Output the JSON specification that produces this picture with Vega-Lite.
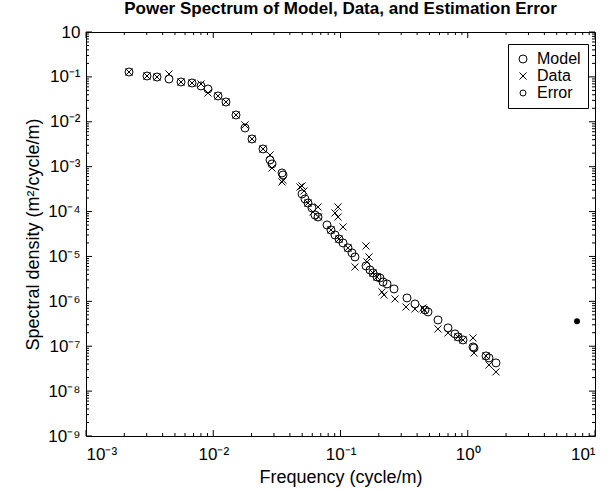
{
  "$schema": "https://vega.github.io/schema/vega-lite/v6.json",
  "autosize": {"type": "none"},
  "width": 509,
  "height": 404,
  "padding": {"left": 86, "top": 32, "right": 18, "bottom": 55},
  "background": "white",
  "title": {"text": "Power Spectrum of Model, Data, and Estimation Error", "font": "Liberation Sans", "fontSize": 17, "fontWeight": "bold", "color": "black", "anchor": "middle", "offset": 5},
  "config": {
    "view": {"stroke": "black", "strokeWidth": 1},
    "axis": {"grid": false, "domain": false, "ticks": false, "labelColor": "black", "titleColor": "black", "labelFont": "Liberation Sans", "titleFont": "Liberation Sans", "labelFontSize": 17, "titleFontSize": 18, "titleFontWeight": "normal"},
    "legend": {"orient": "none", "legendX": 422, "legendY": 12, "strokeColor": "black", "fillColor": "white", "padding": 7, "labelFont": "Liberation Sans", "labelFontSize": 16, "labelColor": "black", "rowPadding": 1, "labelOffset": 6, "symbolStrokeColor": "black", "symbolStrokeWidth": 1}
  },
  "datasets": {
    "xt": [{"v":0.001},{"v":0.002},{"v":0.003},{"v":0.004},{"v":0.005},{"v":0.006},{"v":0.007},{"v":0.008},{"v":0.009},{"v":0.01},{"v":0.02},{"v":0.03},{"v":0.04},{"v":0.05},{"v":0.06},{"v":0.07},{"v":0.08},{"v":0.09},{"v":0.1},{"v":0.2},{"v":0.3},{"v":0.4},{"v":0.5},{"v":0.6},{"v":0.7},{"v":0.8},{"v":0.9},{"v":1},{"v":2},{"v":3},{"v":4},{"v":5},{"v":6},{"v":7},{"v":8},{"v":9},{"v":10}],
    "yt": [{"v":1e-9},{"v":2e-9},{"v":3e-9},{"v":4e-9},{"v":5e-9},{"v":6e-9},{"v":7e-9},{"v":8e-9},{"v":9e-9},{"v":1e-8},{"v":2e-8},{"v":3e-8},{"v":4e-8},{"v":5e-8},{"v":6e-8},{"v":7e-8},{"v":8e-8},{"v":9e-8},{"v":1e-7},{"v":2e-7},{"v":3e-7},{"v":4e-7},{"v":5e-7},{"v":6e-7},{"v":7e-7},{"v":8e-7},{"v":9e-7},{"v":1e-6},{"v":2e-6},{"v":3e-6},{"v":4e-6},{"v":5e-6},{"v":6e-6},{"v":7e-6},{"v":8e-6},{"v":9e-6},{"v":1e-5},{"v":2e-5},{"v":3e-5},{"v":4e-5},{"v":5e-5},{"v":6e-5},{"v":7e-5},{"v":8e-5},{"v":9e-5},{"v":1e-4},{"v":2e-4},{"v":3e-4},{"v":4e-4},{"v":5e-4},{"v":6e-4},{"v":7e-4},{"v":8e-4},{"v":9e-4},{"v":0.001},{"v":0.002},{"v":0.003},{"v":0.004},{"v":0.005},{"v":0.006},{"v":0.007},{"v":0.008},{"v":0.009},{"v":0.01},{"v":0.02},{"v":0.03},{"v":0.04},{"v":0.05},{"v":0.06},{"v":0.07},{"v":0.08},{"v":0.09},{"v":0.1},{"v":0.2},{"v":0.3},{"v":0.4},{"v":0.5},{"v":0.6},{"v":0.7},{"v":0.8},{"v":0.9},{"v":1}],
    "pts": [
    {"f": 0.002178, "s": 0.1285, "series": "Model"},
    {"f": 0.003015, "s": 0.1047, "series": "Model"},
    {"f": 0.003614, "s": 0.0995, "series": "Model"},
    {"f": 0.00449, "s": 0.0898, "series": "Model"},
    {"f": 0.00558, "s": 0.077, "series": "Model"},
    {"f": 0.006808, "s": 0.0731, "series": "Model"},
    {"f": 0.008012, "s": 0.0627, "series": "Model"},
    {"f": 0.009094, "s": 0.0538, "series": "Model"},
    {"f": 0.0109, "s": 0.0376, "series": "Model"},
    {"f": 0.01259, "s": 0.0276, "series": "Model"},
    {"f": 0.01509, "s": 0.01417, "series": "Model"},
    {"f": 0.01776, "s": 0.00728, "series": "Model"},
    {"f": 0.02016, "s": 0.00414, "series": "Model"},
    {"f": 0.0246, "s": 0.00248, "series": "Model"},
    {"f": 0.02793, "s": 0.00141, "series": "Model"},
    {"f": 0.02896, "s": 0.00115, "series": "Model"},
    {"f": 0.0347, "s": 0.000724, "series": "Model"},
    {"f": 0.03532, "s": 0.000653, "series": "Model"},
    {"f": 0.04983, "s": 0.000247, "series": "Model"},
    {"f": 0.0526, "s": 0.000191, "series": "Model"},
    {"f": 0.05553, "s": 0.000155, "series": "Model"},
    {"f": 0.0597, "s": 0.0001203, "series": "Model"},
    {"f": 0.06303, "s": 0.000084, "series": "Model"},
    {"f": 0.06656, "s": 0.0000758, "series": "Model"},
    {"f": 0.07833, "s": 0.0000503, "series": "Model"},
    {"f": 0.08417, "s": 0.0000389, "series": "Model"},
    {"f": 0.09053, "s": 0.0000301, "series": "Model"},
    {"f": 0.09732, "s": 0.0000245, "series": "Model"},
    {"f": 0.1046, "s": 0.00002, "series": "Model"},
    {"f": 0.1145, "s": 0.0000155, "series": "Model"},
    {"f": 0.1231, "s": 0.000012, "series": "Model"},
    {"f": 0.13, "s": 0.00000974, "series": "Model"},
    {"f": 0.1586, "s": 0.00000614, "series": "Model"},
    {"f": 0.1705, "s": 0.000005, "series": "Model"},
    {"f": 0.18, "s": 0.00000429, "series": "Model"},
    {"f": 0.1935, "s": 0.00000349, "series": "Model"},
    {"f": 0.2043, "s": 0.00000332, "series": "Model"},
    {"f": 0.2158, "s": 0.0000027, "series": "Model"},
    {"f": 0.232, "s": 0.00000244, "series": "Model"},
    {"f": 0.2633, "s": 0.00000189, "series": "Model"},
    {"f": 0.3331, "s": 0.00000119, "series": "Model"},
    {"f": 0.385, "s": 8.75e-7, "series": "Model"},
    {"f": 0.4615, "s": 6.43e-7, "series": "Model"},
    {"f": 0.4872, "s": 5.81e-7, "series": "Model"},
    {"f": 0.5836, "s": 3.85e-7, "series": "Model"},
    {"f": 0.6997, "s": 2.56e-7, "series": "Model"},
    {"f": 0.7941, "s": 1.88e-7, "series": "Model"},
    {"f": 0.8384, "s": 1.61e-7, "series": "Model"},
    {"f": 0.9177, "s": 1.38e-7, "series": "Model"},
    {"f": 1.0998, "s": 9.65e-8, "series": "Model"},
    {"f": 1.1197, "s": 9.17e-8, "series": "Model"},
    {"f": 1.391, "s": 6.08e-8, "series": "Model"},
    {"f": 1.469, "s": 5.49e-8, "series": "Model"},
    {"f": 1.667, "s": 4.25e-8, "series": "Model"},
    {"f": 0.002178, "s": 0.1285, "series": "Data"},
    {"f": 0.003015, "s": 0.1047, "series": "Data"},
    {"f": 0.003614, "s": 0.0995, "series": "Data"},
    {"f": 0.00449, "s": 0.116, "series": "Data"},
    {"f": 0.00558, "s": 0.077, "series": "Data"},
    {"f": 0.006808, "s": 0.0731, "series": "Data"},
    {"f": 0.008012, "s": 0.0695, "series": "Data"},
    {"f": 0.009094, "s": 0.0438, "series": "Data"},
    {"f": 0.0109, "s": 0.0376, "series": "Data"},
    {"f": 0.01259, "s": 0.0276, "series": "Data"},
    {"f": 0.01509, "s": 0.01417, "series": "Data"},
    {"f": 0.01776, "s": 0.00849, "series": "Data"},
    {"f": 0.02016, "s": 0.00414, "series": "Data"},
    {"f": 0.0246, "s": 0.00248, "series": "Data"},
    {"f": 0.02793, "s": 0.00182, "series": "Data"},
    {"f": 0.02896, "s": 0.000935, "series": "Data"},
    {"f": 0.0347, "s": 0.000456, "series": "Data"},
    {"f": 0.03532, "s": 0.0005, "series": "Data"},
    {"f": 0.04806, "s": 0.000353, "series": "Data"},
    {"f": 0.04983, "s": 0.000372, "series": "Data"},
    {"f": 0.05167, "s": 0.000288, "series": "Data"},
    {"f": 0.05553, "s": 0.000155, "series": "Data"},
    {"f": 0.0608, "s": 0.000098, "series": "Data"},
    {"f": 0.06656, "s": 0.0001266, "series": "Data"},
    {"f": 0.0672, "s": 0.0000758, "series": "Data"},
    {"f": 0.09559, "s": 0.0001266, "series": "Data"},
    {"f": 0.09053, "s": 0.0000931, "series": "Data"},
    {"f": 0.09559, "s": 0.0000758, "series": "Data"},
    {"f": 0.1046, "s": 0.0000454, "series": "Data"},
    {"f": 0.08417, "s": 0.0000389, "series": "Data"},
    {"f": 0.09732, "s": 0.0000245, "series": "Data"},
    {"f": 0.1145, "s": 0.0000155, "series": "Data"},
    {"f": 0.13, "s": 0.00000584, "series": "Data"},
    {"f": 0.1586, "s": 0.0000171, "series": "Data"},
    {"f": 0.1675, "s": 0.00000974, "series": "Data"},
    {"f": 0.1615, "s": 0.00000754, "series": "Data"},
    {"f": 0.18, "s": 0.00000429, "series": "Data"},
    {"f": 0.1935, "s": 0.00000349, "series": "Data"},
    {"f": 0.2119, "s": 0.00000162, "series": "Data"},
    {"f": 0.2197, "s": 0.00000139, "series": "Data"},
    {"f": 0.2681, "s": 0.00000113, "series": "Data"},
    {"f": 0.3271, "s": 7.5e-7, "series": "Data"},
    {"f": 0.385, "s": 6.77e-7, "series": "Data"},
    {"f": 0.4532, "s": 6.43e-7, "series": "Data"},
    {"f": 0.445, "s": 7.13e-7, "series": "Data"},
    {"f": 0.5836, "s": 2.43e-7, "series": "Data"},
    {"f": 0.6997, "s": 1.98e-7, "series": "Data"},
    {"f": 0.8384, "s": 1.61e-7, "series": "Data"},
    {"f": 0.9177, "s": 1.38e-7, "series": "Data"},
    {"f": 1.0998, "s": 1.53e-7, "series": "Data"},
    {"f": 1.1197, "s": 7.09e-8, "series": "Data"},
    {"f": 1.391, "s": 6.08e-8, "series": "Data"},
    {"f": 1.469, "s": 3.83e-8, "series": "Data"},
    {"f": 1.667, "s": 2.68e-8, "series": "Data"},
    {"f": 7.22, "s": 3.6e-7, "series": "Error"}
  ]},
  "layer": [
    {
      "data": {"name": "xt"},
      "transform": [{"filter": "abs(log(datum.v)/LN10 - round(log(datum.v)/LN10)) < 0.001"}],
      "mark": {"type": "rule", "color": "black", "strokeWidth": 1},
      "encoding": {
        "x": {"field": "v", "type": "quantitative", "scale": {"type": "log", "domain": [0.001, 10], "nice": false}, "axis": null},
        "y": {"datum": 1e-9, "type": "quantitative", "scale": {"type": "log", "domain": [1e-9, 1], "nice": false}, "axis": null},
        "y2": {"datum": 1.36e-9}
      }
    },
    {
      "data": {"name": "xt"},
      "transform": [{"filter": "abs(log(datum.v)/LN10 - round(log(datum.v)/LN10)) >= 0.001"}],
      "mark": {"type": "rule", "color": "black", "strokeWidth": 1},
      "encoding": {
        "x": {"field": "v", "type": "quantitative", "scale": {"type": "log", "domain": [0.001, 10], "nice": false}, "axis": null},
        "y": {"datum": 1e-9, "type": "quantitative", "scale": {"type": "log", "domain": [1e-9, 1], "nice": false}, "axis": null},
        "y2": {"datum": 1.166e-9}
      }
    },
    {
      "data": {"name": "xt"},
      "transform": [{"filter": "abs(log(datum.v)/LN10 - round(log(datum.v)/LN10)) < 0.001"}],
      "mark": {"type": "rule", "color": "black", "strokeWidth": 1},
      "encoding": {
        "x": {"field": "v", "type": "quantitative", "scale": {"type": "log", "domain": [0.001, 10], "nice": false}, "axis": null},
        "y": {"datum": 1, "type": "quantitative", "scale": {"type": "log", "domain": [1e-9, 1], "nice": false}, "axis": null},
        "y2": {"datum": 0.735}
      }
    },
    {
      "data": {"name": "xt"},
      "transform": [{"filter": "abs(log(datum.v)/LN10 - round(log(datum.v)/LN10)) >= 0.001"}],
      "mark": {"type": "rule", "color": "black", "strokeWidth": 1},
      "encoding": {
        "x": {"field": "v", "type": "quantitative", "scale": {"type": "log", "domain": [0.001, 10], "nice": false}, "axis": null},
        "y": {"datum": 1, "type": "quantitative", "scale": {"type": "log", "domain": [1e-9, 1], "nice": false}, "axis": null},
        "y2": {"datum": 0.858}
      }
    },
    {
      "data": {"name": "yt"},
      "transform": [{"filter": "abs(log(datum.v)/LN10 - round(log(datum.v)/LN10)) < 0.001"}],
      "mark": {"type": "rule", "color": "black", "strokeWidth": 1},
      "encoding": {
        "y": {"field": "v", "type": "quantitative", "scale": {"type": "log", "domain": [1e-9, 1], "nice": false}, "axis": null},
        "x": {"datum": 0.001, "type": "quantitative", "scale": {"type": "log", "domain": [0.001, 10], "nice": false}, "axis": null},
        "x2": {"datum": 0.001115}
      }
    },
    {
      "data": {"name": "yt"},
      "transform": [{"filter": "abs(log(datum.v)/LN10 - round(log(datum.v)/LN10)) >= 0.001"}],
      "mark": {"type": "rule", "color": "black", "strokeWidth": 1},
      "encoding": {
        "y": {"field": "v", "type": "quantitative", "scale": {"type": "log", "domain": [1e-9, 1], "nice": false}, "axis": null},
        "x": {"datum": 0.001, "type": "quantitative", "scale": {"type": "log", "domain": [0.001, 10], "nice": false}, "axis": null},
        "x2": {"datum": 0.0010558}
      }
    },
    {
      "data": {"name": "yt"},
      "transform": [{"filter": "abs(log(datum.v)/LN10 - round(log(datum.v)/LN10)) < 0.001"}],
      "mark": {"type": "rule", "color": "black", "strokeWidth": 1},
      "encoding": {
        "y": {"field": "v", "type": "quantitative", "scale": {"type": "log", "domain": [1e-9, 1], "nice": false}, "axis": null},
        "x": {"datum": 10, "type": "quantitative", "scale": {"type": "log", "domain": [0.001, 10], "nice": false}, "axis": null},
        "x2": {"datum": 8.971}
      }
    },
    {
      "data": {"name": "yt"},
      "transform": [{"filter": "abs(log(datum.v)/LN10 - round(log(datum.v)/LN10)) >= 0.001"}],
      "mark": {"type": "rule", "color": "black", "strokeWidth": 1},
      "encoding": {
        "y": {"field": "v", "type": "quantitative", "scale": {"type": "log", "domain": [1e-9, 1], "nice": false}, "axis": null},
        "x": {"datum": 10, "type": "quantitative", "scale": {"type": "log", "domain": [0.001, 10], "nice": false}, "axis": null},
        "x2": {"datum": 9.472}
      }
    },
    {
      "data": {"name": "pts"},
      "transform": [{"filter": "datum.series != 'Error'"}],
      "mark": {"type": "point", "filled": false, "color": "black", "strokeWidth": 1, "opacity": 1},
      "encoding": {
        "x": {"field": "f", "type": "quantitative",
          "scale": {"type": "log", "domain": [0.001, 10], "nice": false},
          "axis": {"orient": "bottom", "title": "Frequency (cycle/m)", "titlePadding": 6, "labelPadding": 10,
            "values": [0.001,0.01,0.1,1,10],
            "labelExpr": "['10⁻³','10⁻²','10⁻¹','10⁰','10¹'][round(log(datum.value)/LN10)+3]"}},
        "y": {"field": "s", "type": "quantitative",
          "scale": {"type": "log", "domain": [1e-9, 1], "nice": false},
          "axis": {"orient": "left", "title": "Spectral density (m²/cycle/m)", "titlePadding": 5, "labelPadding": 6,
            "values": [1e-9,1e-8,1e-7,1e-6,1e-5,1e-4,0.001,0.01,0.1,1],
            "labelExpr": "['10⁻⁹','10⁻⁸','10⁻⁷','10⁻⁶','10⁻⁵','10⁻⁴','10⁻³','10⁻²','10⁻¹','10'][round(log(datum.value)/LN10)+9]"}},
        "shape": {"field": "series", "type": "nominal", "scale": {"domain": ["Model", "Data", "Error"], "range": ["circle", "M-1,-1L1,1M-1,1L1,-1", "circle"]},
          "legend": {"title": null, "encode": {"symbols": {"update": {"size": {"signal": "datum.value === 'Error' ? 5 : 40"}}}}}},
        "size": {"field": "series", "type": "nominal", "scale": {"domain": ["Model", "Data", "Error"], "range": [64, 36, 4]}, "legend": {"title": null}}
      }
    },
    {
      "data": {"name": "pts"},
      "transform": [{"filter": "datum.series == 'Error'"}],
      "mark": {"type": "point", "filled": true, "color": "black", "strokeWidth": 1, "opacity": 1},
      "encoding": {
        "x": {"field": "f", "type": "quantitative", "scale": {"type": "log", "domain": [0.001, 10], "nice": false}, "axis": null},
        "y": {"field": "s", "type": "quantitative", "scale": {"type": "log", "domain": [1e-9, 1], "nice": false}, "axis": null},
        "shape": {"field": "series", "type": "nominal", "scale": {"domain": ["Model", "Data", "Error"], "range": ["circle", "M-1,-1L1,1M-1,1L1,-1", "circle"]}, "legend": {"title": null}},
        "size": {"field": "series", "type": "nominal", "scale": {"domain": ["Model", "Data", "Error"], "range": [64, 36, 4]}, "legend": {"title": null}}
      }
    }
  ],
  "resolve": {"axis": {"x": "independent", "y": "independent"}}
}
